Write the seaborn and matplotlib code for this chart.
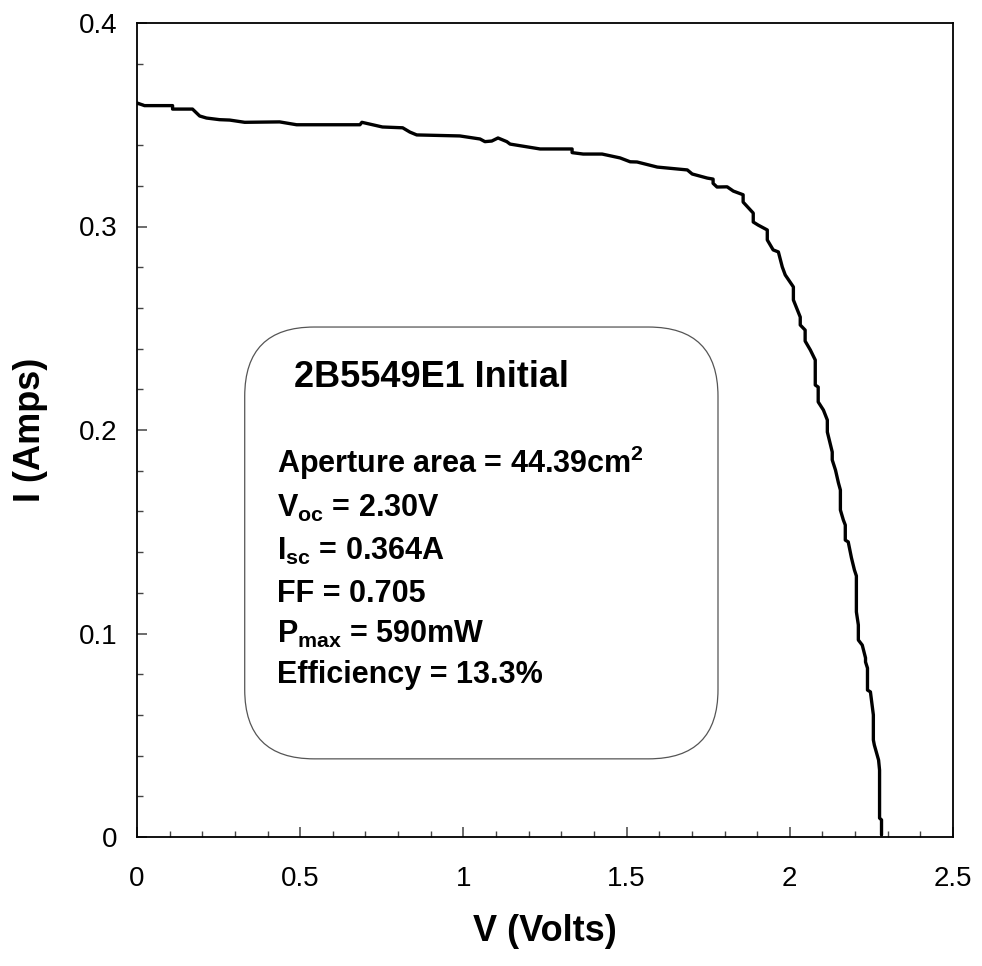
import numpy as np
import pandas as pd
import matplotlib
matplotlib.use("Agg")
import matplotlib.pyplot as plt
import seaborn as sns
from matplotlib.patches import FancyBboxPatch
from matplotlib.ticker import MultipleLocator, FixedLocator, FixedFormatter

# ---- data ----
voltage = [0.000, 0.023, 0.109, 0.109, 0.170, 0.192, 0.213, 0.253, 0.284, 0.330,
           0.437, 0.489, 0.683, 0.689, 0.752, 0.814, 0.836, 0.857, 0.989, 1.051,
           1.066, 1.087, 1.106, 1.133, 1.143, 1.235, 1.333, 1.333, 1.367, 1.425,
           1.480, 1.511, 1.532, 1.594, 1.686, 1.701, 1.747, 1.765, 1.765, 1.777,
           1.808, 1.827, 1.857, 1.857, 1.888, 1.888, 1.903, 1.931, 1.931, 1.949,
           1.965, 1.977, 1.986, 2.011, 2.011, 2.032, 2.032, 2.047, 2.047, 2.063,
           2.078, 2.078, 2.087, 2.087, 2.103, 2.115, 2.115, 2.121, 2.130, 2.130,
           2.140, 2.149, 2.155, 2.155, 2.164, 2.170, 2.170, 2.179, 2.189, 2.198,
           2.204, 2.204, 2.210, 2.210, 2.222, 2.232, 2.232, 2.238, 2.238, 2.247,
           2.256, 2.256, 2.259, 2.272, 2.275, 2.275, 2.281, 2.281]
current = [0.3607, 0.3594, 0.3594, 0.3577, 0.3577, 0.3543, 0.3533, 0.3525, 0.3523, 0.3512,
           0.3514, 0.3500, 0.3500, 0.3512, 0.3489, 0.3485, 0.3464, 0.3450, 0.3445, 0.3430,
           0.3417, 0.3420, 0.3435, 0.3417, 0.3405, 0.3381, 0.3381, 0.3363, 0.3356, 0.3356,
           0.3337, 0.3318, 0.3317, 0.3292, 0.3278, 0.3258, 0.3238, 0.3233, 0.3212, 0.3194,
           0.3195, 0.3174, 0.3156, 0.3120, 0.3066, 0.3022, 0.3007, 0.2983, 0.2934, 0.2885,
           0.2875, 0.2801, 0.2762, 0.2703, 0.2639, 0.2555, 0.2516, 0.2491, 0.2437, 0.2393,
           0.2344, 0.2221, 0.2211, 0.2138, 0.2098, 0.2049, 0.1990, 0.1951, 0.1892, 0.1853,
           0.1803, 0.1740, 0.1705, 0.1607, 0.1558, 0.1533, 0.1459, 0.1450, 0.1371, 0.1312,
           0.1283, 0.1106, 0.1042, 0.0968, 0.0943, 0.0880, 0.0860, 0.0830, 0.0722, 0.0713,
           0.0600, 0.0477, 0.0452, 0.0378, 0.0329, 0.0093, 0.0084, 0.0010]

x_ticks = [0, 0.5, 1, 1.5, 2, 2.5]
x_tick_labels = ["0", "0.5", "1", "1.5", "2", "2.5"]
y_ticks = [0, 0.1, 0.2, 0.3, 0.4]
y_tick_labels = ["0", "0.1", "0.2", "0.3", "0.4"]

box_title = "2B5549E1 Initial"
box_lines = [
    r"Aperture area = 44.39cm$^{\mathbf{2}}$",
    r"V$_{\mathbf{oc}}$ = 2.30V",
    r"I$_{\mathbf{sc}}$ = 0.364A",
    "FF = 0.705",
    r"P$_{\mathbf{max}}$ = 590mW",
    "Efficiency = 13.3%",
]

df = pd.DataFrame({"V": voltage, "I": current})

sns.set_theme(style="white")
plt.rcParams["font.family"] = ["Liberation Sans", "DejaVu Sans"]
plt.rcParams["mathtext.fontset"] = "custom"
plt.rcParams["mathtext.rm"] = "Liberation Sans"
plt.rcParams["mathtext.bf"] = "Liberation Sans:bold"
plt.rcParams["mathtext.it"] = "Liberation Sans:italic"
plt.rcParams["text.color"] = "black"
plt.rcParams["axes.labelcolor"] = "black"
plt.rcParams["xtick.color"] = "black"
plt.rcParams["ytick.color"] = "black"

fig = plt.figure(figsize=(9.82, 9.66), dpi=100)
ax = fig.add_axes([137 / 982, 1 - 837 / 966, (953 - 137) / 982, (837 - 23) / 966])

sns.lineplot(data=df, x="V", y="I", sort=False, estimator=None, color="black",
             linewidth=2.4, ax=ax)

ax.set_xlim(0, 2.5)
ax.set_ylim(0, 0.4)
ax.xaxis.set_major_locator(FixedLocator(x_ticks))
ax.xaxis.set_major_formatter(FixedFormatter(x_tick_labels))
ax.yaxis.set_major_locator(FixedLocator(y_ticks))
ax.yaxis.set_major_formatter(FixedFormatter(y_tick_labels))
ax.xaxis.set_minor_locator(MultipleLocator(0.1))
ax.yaxis.set_minor_locator(MultipleLocator(0.02))

ax.tick_params(axis="both", which="both", direction="in", top=False, right=False,
               bottom=True, left=True, colors="#444444", labelcolor="black",
               labelsize=20)
ax.tick_params(axis="both", which="major", length=7.5, width=1.1)
ax.tick_params(axis="both", which="minor", length=4.5, width=1.0)
ax.tick_params(axis="x", which="major", pad=21)
ax.tick_params(axis="y", which="major", pad=14)

for s in ax.spines.values():
    s.set_visible(True)
    s.set_color("black")
    s.set_linewidth(1.3)

ax.set_xlabel("V (Volts)", fontsize=26, fontweight="bold", labelpad=16, color="black")
ax.set_ylabel("I (Amps)", fontsize=26, fontweight="bold", labelpad=22, color="black")
ax.grid(False)

# rounded annotation box
box = FancyBboxPatch((0.132, 0.096), 0.712 - 0.132, 0.6265 - 0.096,
                     boxstyle="round,pad=0,rounding_size=0.085",
                     transform=ax.transAxes, facecolor="white",
                     edgecolor="#555555", linewidth=0.9, zorder=1)
ax.add_patch(box)

ax.text(0.192, 0.553, box_title, transform=ax.transAxes, fontsize=26,
        fontweight="bold", va="baseline", ha="left", zorder=3, color="black")
line_y = [0.447, 0.393, 0.340, 0.289, 0.238, 0.189]
for y, t in zip(line_y, box_lines):
    ax.text(0.1716, y, t, transform=ax.transAxes, fontsize=22,
            fontweight="bold", va="baseline", ha="left", zorder=3, color="black")

fig.savefig("out.png", dpi=100, facecolor="white")
